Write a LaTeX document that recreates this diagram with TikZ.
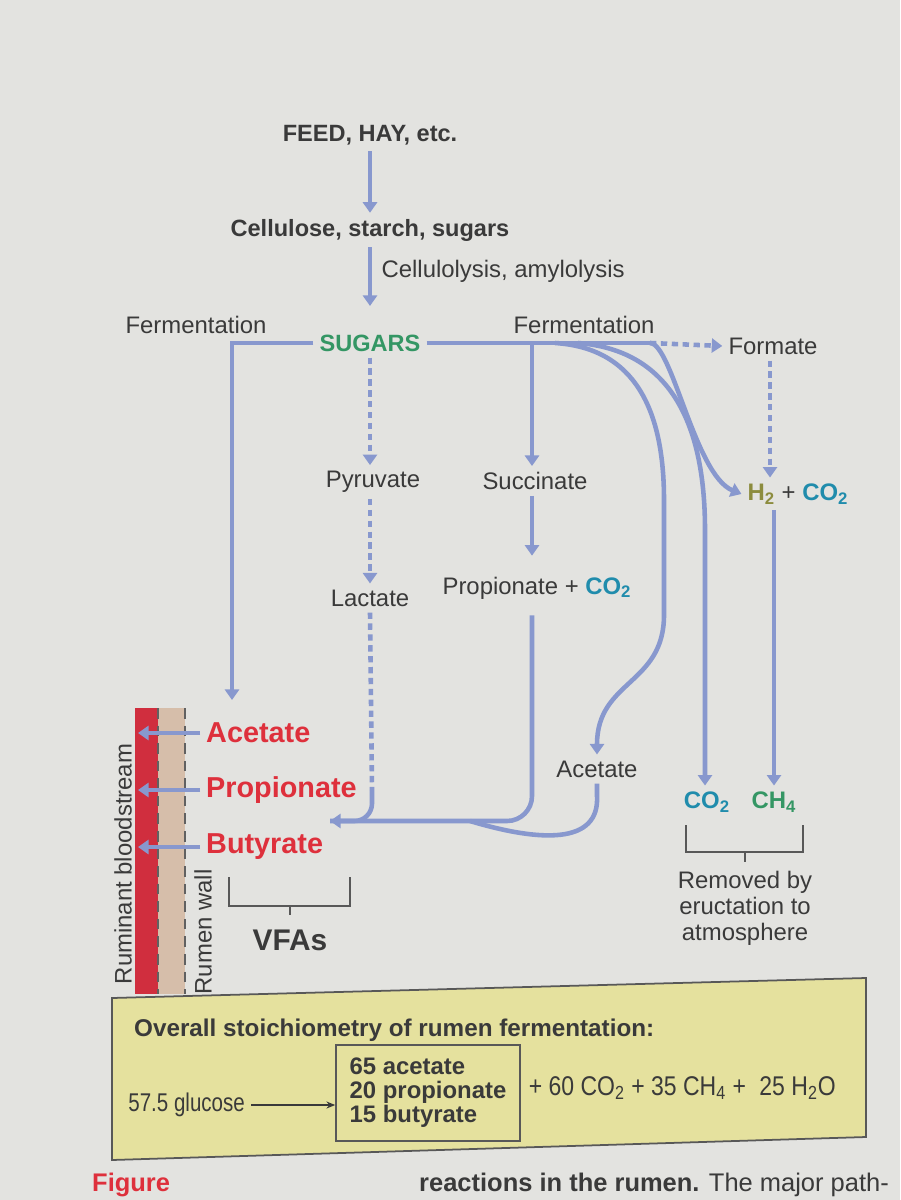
\documentclass[tikz,border=0pt]{standalone}
\usepackage{fontspec}
\setmainfont{Liberation Sans}
\newfontfamily\narrowfont[FakeStretch=0.85]{Liberation Sans}
\newfontfamily\tightfont[FakeStretch=0.8]{Liberation Sans}
\usepackage{xcolor}
\definecolor{paper}{RGB}{227,227,224}
\definecolor{flowblue}{RGB}{136,152,206}
\definecolor{inkgray}{RGB}{58,58,58}
\definecolor{sugargreen}{RGB}{52,150,100}
\definecolor{cotwoteal}{RGB}{32,140,172}
\definecolor{htwoolive}{RGB}{140,140,62}
\definecolor{vfared}{RGB}{222,48,60}
\definecolor{bloodred}{RGB}{208,46,62}
\definecolor{wallbeige}{RGB}{214,190,170}
\definecolor{boxyellow}{RGB}{229,225,158}
\usetikzlibrary{arrows.meta, positioning}

\begin{document}
\begin{tikzpicture}[
    x=0.02cm, y=-0.02cm,
    every node/.style={align=center, text=inkgray, font=\fontsize{13.6}{16.5}\selectfont},
    head/.style={font=\fontsize{13.4}{16}\selectfont\bfseries},
    vfa/.style={anchor=west, text=vfared, font=\fontsize{16.4}{20}\selectfont\bfseries},
    boxtext/.style={font=\narrowfont\fontsize{13.4}{15}\selectfont},
    pipe/.style={draw=flowblue, line width=2.6pt},
    flow/.style={pipe, -{Triangle[width=8pt,length=6pt]}},
    dashflow/.style={flow, dash pattern=on 3.6pt off 2.6pt},
    brace/.style={draw=inkgray!85, line width=0.8pt},
    walldash/.style={draw=inkgray!80, line width=1pt, dash pattern=on 6pt off 4pt}
]

% Page
\fill[paper] (0,0) rectangle (900,1200);
\clip (0,0) rectangle (900,1200);

% Rumen wall and bloodstream
\fill[bloodred] (135,708) rectangle (158,994);
\fill[wallbeige] (158,708) rectangle (185,994);
\draw[walldash] (158,708) -- (158,994);
\draw[walldash] (185,708) -- (185,994);
\node[rotate=90] (blood) at (123,864) {Ruminant bloodstream};
\node[rotate=90] (wall) at (203,932) {Rumen wall};
\coordinate (bloodx) at (138,850);

% Nodes
\node[head] (feed) at (370,135) {FEED, HAY, etc.};
\node[head] (cellulose) at (370,230) {Cellulose, starch, sugars};
\node[head, text=sugargreen] (sugars) at (370,343) {SUGARS};
\node (fermleft) at (196,325) {Fermentation};
\node (fermright) at (584,325) {Fermentation};
\node (formate) at (773,346) {Formate};
\node (pyruvate) at (373,482) {Pyruvate};
\node (succinate) at (535,481) {Succinate};
\node (lactate) at (370,598) {Lactate};
\node (propco) at (537,588) {Propionate + \textcolor{cotwoteal}{\bfseries CO\textsubscript{2}}};
\node (acetmid) at (597,769) {Acetate};
\node (htwo) at (798,494) {\textcolor{htwoolive}{\bfseries H\textsubscript{2}} + \textcolor{cotwoteal}{\bfseries CO\textsubscript{2}}};
\node[text=cotwoteal, font=\fontsize{13.6}{16.5}\selectfont\bfseries] (cotwo) at (707,802) {CO\textsubscript{2}};
\node[text=sugargreen, font=\fontsize{13.6}{16.5}\selectfont\bfseries] (chfour) at (774,802) {CH\textsubscript{4}};
\node[font=\fontsize{13.6}{14.8}\selectfont] (removed) at (745,908) {Removed by\\eructation to\\atmosphere};
\node[vfa] (vfaacet) at (200,733) {Acetate};
\node[vfa] (vfaprop) at (200,790) {Propionate};
\node[vfa] (vfabut) at (200,847) {Butyrate};
\node[head, font=\fontsize{17}{20}\selectfont\bfseries] (vfas) at (290,940) {VFAs};

\coordinate (acetin) at (232,700);
\coordinate (fork) at (650,343);
\coordinate (sucfork) at (532,343);
\coordinate (lacend) at (372,790);
\coordinate (vfain) at (330,821);

% Connections
\draw[flow] (feed) -- (cellulose);
\draw[flow, shorten >=0.45cm] (cellulose) -- node[pos=0.3, right, xshift=2pt]{Cellulolysis, amylolysis} (sugars);
\draw[flow] (sugars.west) -| (acetin);
\draw[pipe] (sugars.east) -- (fork);
\draw[dashflow] (fork) -- (formate.west);
\draw[dashflow] (sugars.south) -- (pyruvate.north -| sugars);
\draw[dashflow] (pyruvate.south -| sugars) -- (lactate.north -| sugars);
\draw[flow] (sucfork) -- (succinate.north -| sucfork);
\draw[flow, shorten >=0.3cm] (succinate.south -| sucfork) -- (propco.north -| sucfork);
\draw[flow] (555,343) .. controls (635,348) and (664,410) .. (664,500) -- (664,615)
    .. controls (664,685) and (597,680) .. (acetmid.north);
\draw[flow] (578,343) .. controls (668,350) and (705,420) .. (705,530) -- (cotwo.north -| 705,0);
\draw[flow] (fork) .. controls (672,343) and (695,475) .. (htwo.west);
\draw[dashflow] (formate.south -| 770,0) -- (htwo.north -| 770,0);
\draw[flow] (htwo.south -| chfour) -- (chfour.north);
\draw[dashflow, -] (lactate.south -| sugars) -- (lacend);
\draw[pipe] (acetmid.south) -- ++(0,12) .. controls (600,845) and (540,842) .. (470,821);
\draw[pipe, rounded corners=0.35cm] (lacend) |- (vfain);
\draw[flow, rounded corners=0.5cm, shorten <=0.2cm] (propco.south -| sucfork) |- (vfain);
\draw[flow] (vfaacet.west) -- (vfaacet.west -| bloodx);
\draw[flow] (vfaprop.west) -- (vfaprop.west -| bloodx);
\draw[flow] (vfabut.west) -- (vfabut.west -| bloodx);

% Brackets
\draw[brace] (229,877) |- (350,906) -- (350,877);
\draw[brace] (vfas.north |- 0,906) -- (vfas.north |- 0,915);
\draw[brace] (686,825) |- (803,852) -- (803,825);
\draw[brace] (removed.north |- 0,852) -- (removed.north |- 0,862);

% Stoichiometry box
\draw[fill=boxyellow, draw=inkgray!85, line width=1pt] (112,998) -- (866,978) -- (866,1137) -- (112,1160) -- cycle;
\node[anchor=west, font=\fontsize{13.8}{16}\selectfont\bfseries] (overall) at (128,1030) {Overall stoichiometry of rumen fermentation:};
\node[anchor=east, font=\tightfont\fontsize{14.6}{16}\selectfont] (glucose) at (251,1105) {57.5 glucose};
\node[draw=inkgray!85, line width=0.9pt, align=left, minimum width=184*0.02cm, minimum height=96*0.02cm, font=\fontsize{13.6}{13.6}\selectfont\bfseries] (products) at (428,1093)
    {65 acetate\\20 propionate\\15 butyrate};
\node[boxtext, anchor=west, font=\narrowfont\fontsize{15.4}{17}\selectfont] (others) at ([xshift=1pt]products.east |- 0,1088) {+ 60 CO\textsubscript{2} + 35 CH\textsubscript{4} +\enspace 25 H\textsubscript{2}O};
\draw[-{Stealth[length=5pt,width=4pt]}, draw=inkgray, line width=0.8pt] (glucose.east) -- (products.west |- glucose.east);

% Caption line (cut off)
\node[anchor=west, text=vfared, font=\fontsize{14.5}{16}\selectfont\bfseries] (figword) at (86,1185) {Figure};
\node[anchor=east, font=\fontsize{14.5}{16}\selectfont] (caption) at (895,1185) {\textbf{reactions in the rumen.} The major path-};
\end{tikzpicture}
\end{document}
